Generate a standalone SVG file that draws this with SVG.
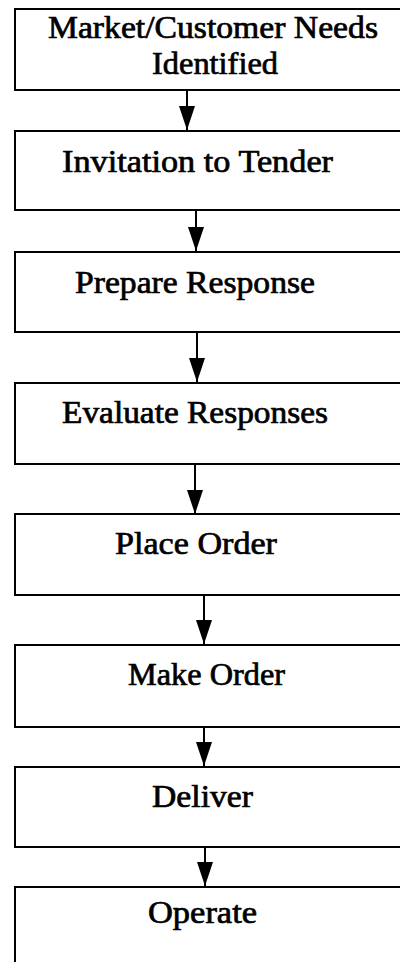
<svg xmlns="http://www.w3.org/2000/svg" width="400" height="962" viewBox="0 0 400 962">
<style>
.box{fill:#fff;stroke:#000;stroke-width:2}
.lbl{font-family:"Liberation Serif","Times New Roman",Times,serif;font-size:31px;fill:#000;stroke:#000;stroke-width:0.7}
.conn{stroke:#000;stroke-width:2;fill:none}
</style>
<defs>
<marker id="ah" viewBox="0 0 24 16" refX="24" refY="8" markerWidth="24" markerHeight="16" markerUnits="userSpaceOnUse" orient="auto">
<path d="M0,0 L24,8 L0,16 Z" fill="#000"/>
</marker>
</defs>
<rect width="400" height="962" fill="#fff"/>
<g id="n1"><rect class="box" x="15" y="9" width="400" height="81"/>
<text class="lbl" x="48" y="38" textLength="330" lengthAdjust="spacingAndGlyphs">Market/Customer Needs</text>
<text class="lbl" x="152" y="74" textLength="126" lengthAdjust="spacingAndGlyphs">Identified</text></g>
<g id="n2"><rect class="box" x="15" y="131" width="400" height="79"/>
<text class="lbl" x="62" y="172" textLength="271" lengthAdjust="spacingAndGlyphs">Invitation to Tender</text></g>
<g id="n3"><rect class="box" x="15" y="252" width="400" height="80"/>
<text class="lbl" x="75" y="293" textLength="240" lengthAdjust="spacingAndGlyphs">Prepare Response</text></g>
<g id="n4"><rect class="box" x="15" y="383" width="400" height="81"/>
<text class="lbl" x="62" y="423" textLength="266" lengthAdjust="spacingAndGlyphs">Evaluate Responses</text></g>
<g id="n5"><rect class="box" x="15" y="514" width="400" height="81"/>
<text class="lbl" x="115" y="554" textLength="162" lengthAdjust="spacingAndGlyphs">Place Order</text></g>
<g id="n6"><rect class="box" x="15" y="645" width="400" height="82"/>
<text class="lbl" x="128" y="685" textLength="157" lengthAdjust="spacingAndGlyphs">Make Order</text></g>
<g id="n7"><rect class="box" x="15" y="767" width="400" height="80"/>
<text class="lbl" x="152" y="807" textLength="101" lengthAdjust="spacingAndGlyphs">Deliver</text></g>
<g id="n8"><rect class="box" x="15" y="887" width="400" height="100"/>
<text class="lbl" x="148" y="923" textLength="109" lengthAdjust="spacingAndGlyphs">Operate</text></g>
<g id="connectors">
<line class="conn" x1="187" y1="90" x2="187" y2="130" marker-end="url(#ah)"/>
<line class="conn" x1="196" y1="210" x2="196" y2="251" marker-end="url(#ah)"/>
<line class="conn" x1="197" y1="332" x2="197" y2="382" marker-end="url(#ah)"/>
<line class="conn" x1="195" y1="464" x2="195" y2="514" marker-end="url(#ah)"/>
<line class="conn" x1="204" y1="595" x2="204" y2="644" marker-end="url(#ah)"/>
<line class="conn" x1="204" y1="727" x2="204" y2="766" marker-end="url(#ah)"/>
<line class="conn" x1="205" y1="847" x2="205" y2="886" marker-end="url(#ah)"/>
</g>
</svg>
